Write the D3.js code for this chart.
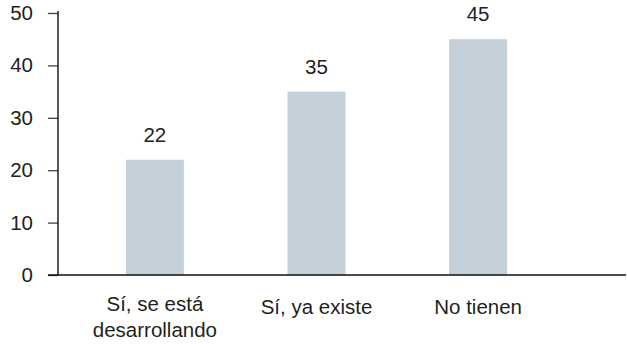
<!DOCTYPE html>
<html>
<head>
<meta charset="utf-8">
<script src="https://cdn.jsdelivr.net/npm/d3@7"></script>
<style>
  html, body { margin: 0; padding: 0; background: #fff; }
  svg { display: block; }
  text { font-family: "Liberation Sans", Arial, Helvetica, sans-serif; fill: #231f20; }
</style>
</head>
<body>
<script>
const categories = ['Sí, se está desarrollando', 'Sí, ya existe', 'No tienen'];
const categoryLines = [['Sí, se está', 'desarrollando'], ['Sí, ya existe'], ['No tienen']];
const values = [22, 35, 45];
const yTicks = [0, 10, 20, 30, 40, 50];

const svgWidth = 627;
const svgHeight = 344;
const fontSize = '20.5px';

const svg = d3.select('body')
              .append('svg')
              .attr('width', svgWidth)
              .attr('height', svgHeight);

// Scales
const xScale = d3.scaleBand()
                 .domain(categories)
                 .range([58, 575])
                 .paddingInner(0.641)
                 .paddingOuter(0.42);

const yScale = d3.scaleLinear()
                 .domain([0, 50])
                 .range([275, 13]);

// Bars
svg.selectAll('rect.bar')
   .data(values)
   .enter()
   .append('rect')
   .attr('class', 'bar')
   .attr('x', (d, i) => xScale(categories[i]))
   .attr('y', (d) => yScale(d))
   .attr('width', xScale.bandwidth())
   .attr('height', (d) => yScale(0) - yScale(d))
   .attr('fill', '#c5d1da');

// Value labels
svg.selectAll('text.value')
   .data(values)
   .enter()
   .append('text')
   .attr('class', 'value')
   .attr('x', (d, i) => xScale(categories[i]) + xScale.bandwidth() / 2)
   .attr('y', (d) => yScale(d) - 18)
   .attr('text-anchor', 'middle')
   .style('font-size', fontSize)
   .text((d) => d);

// Y axis
const yAxis = d3.axisLeft(yScale)
                .tickValues(yTicks)
                .tickSize(10)
                .tickPadding(15);

const yAxisG = svg.append('g')
                  .attr('id', 'y-axis')
                  .attr('transform', 'translate(58,0)')
                  .call(yAxis);

yAxisG.select('.domain').remove();
yAxisG.selectAll('.tick line')
      .attr('stroke', '#444')
      .attr('stroke-width', 1.3);
yAxisG.selectAll('.tick text')
      .style('font-size', fontSize)
      .attr('fill', '#231f20');

svg.append('line')
   .attr('x1', 58).attr('x2', 58)
   .attr('y1', 11).attr('y2', yScale(0))
   .attr('stroke', '#111')
   .attr('stroke-width', 1.4);

// X axis baseline
svg.append('line')
   .attr('x1', 48).attr('x2', 626)
   .attr('y1', yScale(0)).attr('y2', yScale(0))
   .attr('stroke', '#111')
   .attr('stroke-width', 1.4);

// Category labels
const catLabels = svg.selectAll('text.cat')
                     .data(categoryLines)
                     .enter()
                     .append('text')
                     .attr('class', 'cat')
                     .attr('text-anchor', 'middle')
                     .style('font-size', fontSize)
                     .attr('transform', (d, i) => {
                       const cx = xScale(categories[i]) + xScale.bandwidth() / 2;
                       const cy = d.length > 1 ? 311 : 314;
                       return 'translate(' + cx + ',' + cy + ')';
                     });

catLabels.selectAll('tspan')
         .data((d) => d)
         .enter()
         .append('tspan')
         .attr('x', 0)
         .attr('y', (d, j) => j * 26)
         .text((d) => d);
</script>
</body>
</html>
